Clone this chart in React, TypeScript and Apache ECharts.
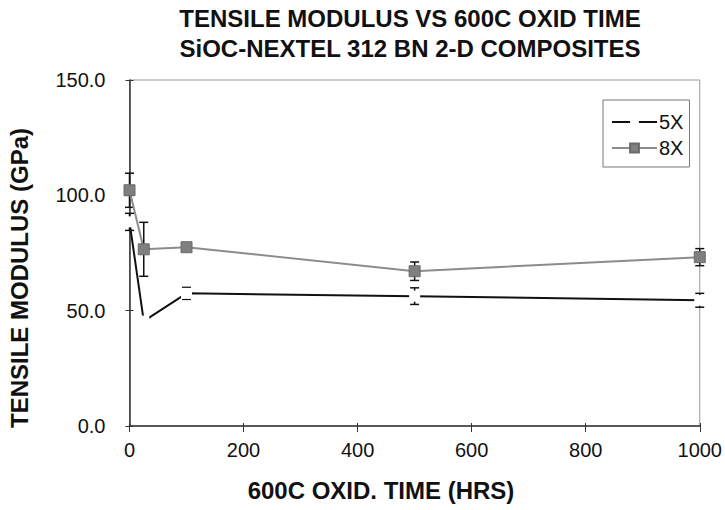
import React, { useEffect, useRef } from "react";
import * as echarts from "echarts";

// ---- data ----
const seriesNames = ["5X", "8X"];
const oxidTime5X = [0, 25, 100, 500, 1000];
const modulus5X = [88.5, 45.5, 57.5, 56.3, 54.5];
const stdDev5X = [3.7, 1.0, 2.6, 3.6, 3.0];
const oxidTime8X = [0, 25, 100, 500, 1000];
const modulus8X = [102.2, 76.6, 77.5, 67.1, 73.2];
const stdDev8X = [7.4, 11.7, 1.5, 4.0, 3.7];
const xMin = 0, xMax = 1000, xInterval = 200;
const yMin = 0, yMax = 150, yInterval = 50;
const titleLines = ["TENSILE MODULUS VS 600C OXID TIME", "SiOC-NEXTEL 312 BN 2-D COMPOSITES"];
const xAxisTitle = "600C OXID. TIME (HRS)";
const yAxisTitle = "TENSILE MODULUS (GPa)";

const FONT = "'Liberation Sans', Arial, Helvetica, sans-serif";

function errorBarRender(params: any, api: any) {
  const x = api.value(0);
  const y = api.value(1);
  const e = api.value(2);
  const top = api.coord([x, y + e]);
  const bot = api.coord([x, y - e]);
  const hw = 4.5;
  const style = { stroke: "#111", lineWidth: 1.5 };
  return {
    type: "group",
    children: [
      { type: "line", shape: { x1: top[0], y1: top[1], x2: bot[0], y2: bot[1] }, style },
      { type: "line", shape: { x1: top[0] - hw, y1: top[1], x2: top[0] + hw, y2: top[1] }, style },
      { type: "line", shape: { x1: bot[0] - hw, y1: bot[1], x2: bot[0] + hw, y2: bot[1] }, style },
    ],
  };
}

export default function App() {
  const ref = useRef<HTMLDivElement>(null);
  useEffect(() => {
    if (!ref.current) return;
    const chart = echarts.init(ref.current, undefined, { renderer: "svg" });
    const pts5 = oxidTime5X.map((t, i) => [t, modulus5X[i]]);
    const pts8 = oxidTime8X.map((t, i) => [t, modulus8X[i]]);
    const err5 = oxidTime5X.map((t, i) => [t, modulus5X[i], stdDev5X[i]]);
    const err8 = oxidTime8X.map((t, i) => [t, modulus8X[i], stdDev8X[i]]);
    const axisCommonX = { type: "value", min: xMin, max: xMax, interval: xInterval };
    const axisCommonY = { type: "value", min: yMin, max: yMax, interval: yInterval };
    const titleFont = `bold 24px ${FONT}`;
    chart.setOption({
      animation: false,
      backgroundColor: "#fff",
      textStyle: { fontFamily: FONT },
      grid: { left: 129.5, right: 25, top: 80, bottom: 84, show: true, borderColor: "#999", borderWidth: 1 },
      graphic: [
        { type: "text", x: 410, y: 18, style: { text: titleLines[0], font: titleFont, fill: "#111", textAlign: "center", textVerticalAlign: "middle" } },
        { type: "text", x: 410, y: 48, style: { text: titleLines[1], font: titleFont, fill: "#111", textAlign: "center", textVerticalAlign: "middle" } },
        { type: "text", x: 381, y: 490, style: { text: xAxisTitle, font: titleFont, fill: "#111", textAlign: "center", textVerticalAlign: "middle" } },
        { type: "text", x: 19, y: 278, rotation: Math.PI / 2, style: { text: yAxisTitle, font: titleFont, fill: "#111", textAlign: "center", textVerticalAlign: "middle" } },
      ],
      legend: {
        data: seriesNames,
        orient: "vertical",
        left: 603,
        top: 100,
        itemWidth: 45,
        itemHeight: 11,
        itemGap: 6,
        padding: [12, 6, 9, 8],
        backgroundColor: "#fff",
        borderColor: "#777",
        borderWidth: 1,
        borderRadius: 0,
        textStyle: { fontSize: 20, color: "#111", fontFamily: FONT, padding: [0, 0, 0, -3] },
      },
      xAxis: [
        {
          ...axisCommonX,
          axisLine: { onZero: false, lineStyle: { color: "#333", width: 1.5 } },
          axisTick: { show: true, inside: false, length: 6, lineStyle: { color: "#333", width: 1 } },
          axisLabel: { fontSize: 20, color: "#111", margin: 14, fontFamily: FONT, formatter: (v: number) => String(v) },
          splitLine: { show: false },
        },
        {
          ...axisCommonX,
          position: "bottom",
          axisLine: { show: false },
          axisTick: { show: true, inside: true, length: 3, lineStyle: { color: "#333", width: 1 } },
          axisLabel: { show: false },
          splitLine: { show: false },
        },
      ],
      yAxis: [
        {
          ...axisCommonY,
          axisLine: { show: true, onZero: false, lineStyle: { color: "#333", width: 1.5 } },
          axisTick: { show: true, inside: false, length: 4, lineStyle: { color: "#333", width: 1 } },
          axisLabel: { fontSize: 20, color: "#111", margin: 24, fontFamily: FONT, formatter: (v: number) => v.toFixed(1) },
          splitLine: { show: false },
        },
        {
          ...axisCommonY,
          position: "left",
          axisLine: { show: false },
          axisTick: { show: true, inside: true, length: 4, lineStyle: { color: "#333", width: 1 } },
          axisLabel: { show: false },
          splitLine: { show: false },
        },
      ],
      series: [
        {
          name: "5X err",
          type: "custom",
          renderItem: errorBarRender,
          data: err5,
          encode: { x: 0, y: 1 },
          z: 1,
          clip: false,
          silent: true,
        },
        {
          name: "8X err",
          type: "custom",
          renderItem: errorBarRender,
          data: err8,
          encode: { x: 0, y: 1 },
          z: 1,
          clip: false,
          silent: true,
        },
        {
          name: seriesNames[0],
          type: "line",
          data: pts5,
          symbol: "rect",
          symbolSize: 11,
          itemStyle: { color: "#fff", borderWidth: 0 },
          lineStyle: { color: "#111", width: 2 },
          z: 3,
          clip: false,
        },
        {
          name: seriesNames[1],
          type: "line",
          data: pts8,
          symbol: "rect",
          symbolSize: 11,
          itemStyle: { color: "#7f7f7f", borderColor: "#6a6a6a", borderWidth: 1 },
          lineStyle: { color: "#8c8c8c", width: 2 },
          z: 4,
          clip: false,
        },
      ],
    });
    return () => chart.dispose();
  }, []);
  return <div ref={ref} style={{ position: "fixed", left: 0, top: 0, width: 725, height: 510 }} />;
}
